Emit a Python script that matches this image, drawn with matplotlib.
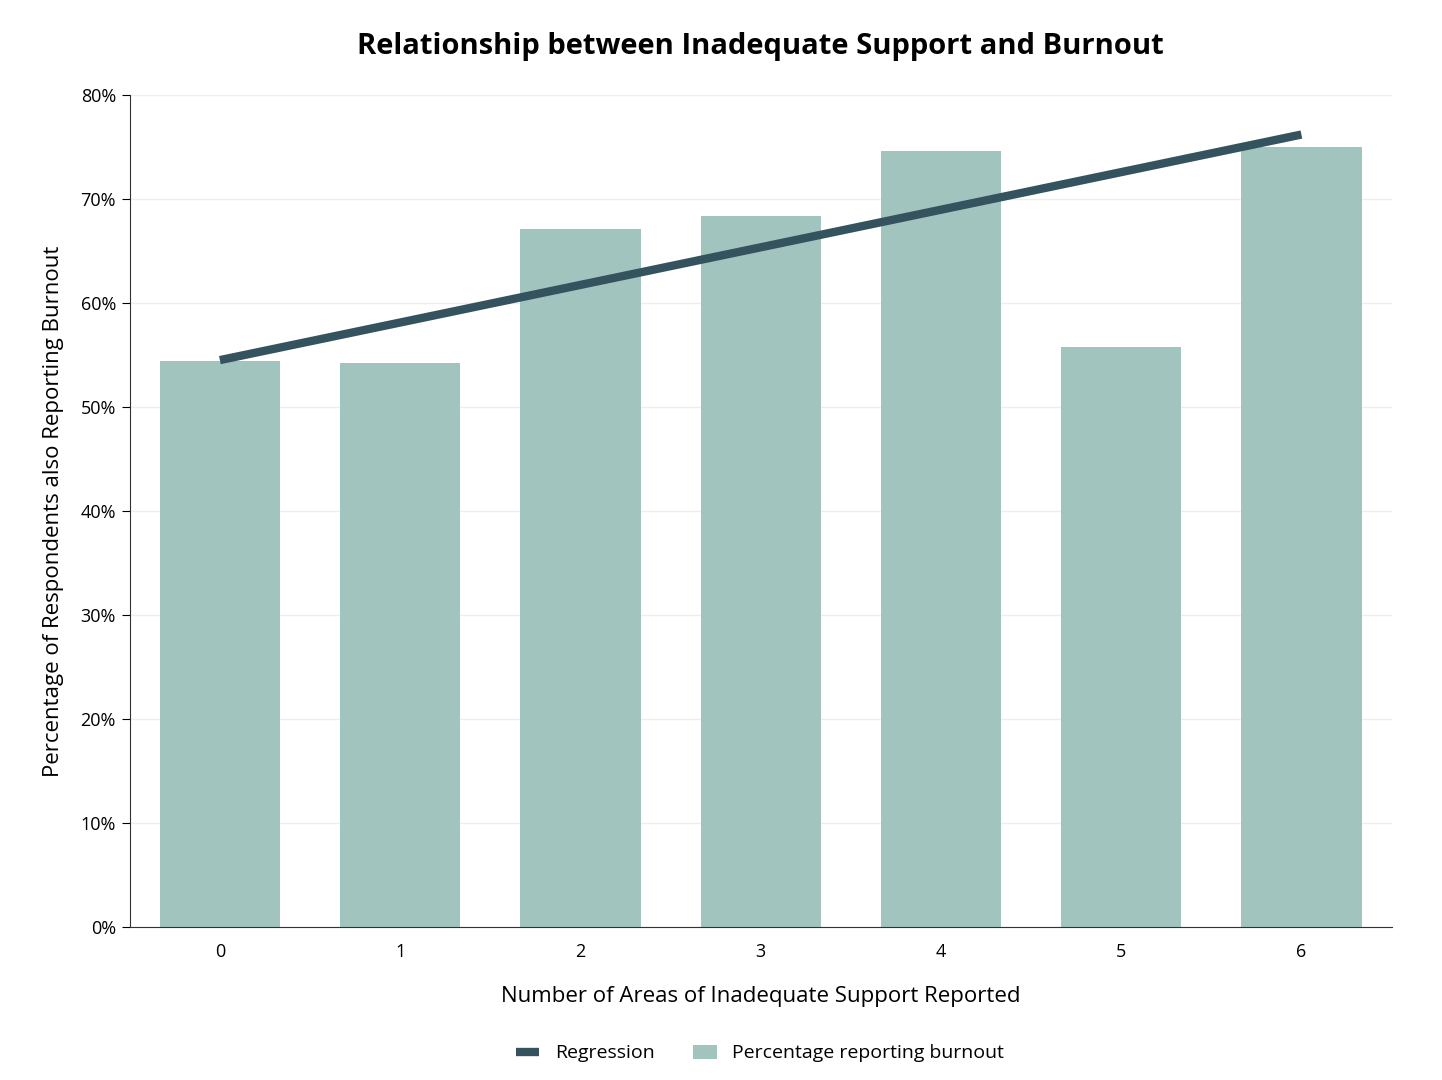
import numpy as np
import matplotlib.pyplot as plt
from matplotlib.ticker import PercentFormatter

plt.rcParams["font.family"] = "Open Sans"

# Data
areas = [0, 1, 2, 3, 4, 5, 6]
burnout_pct = [54.4, 54.2, 67.1, 68.4, 74.6, 55.8, 75.0]
regression_ends = [54.5, 76.2]  # fitted values at x=0 and x=6

fig = plt.figure(figsize=(14.42, 10.8), dpi=100)
ax = fig.add_axes([0.090, 0.142, 0.875, 0.770])

ax.bar(areas, burnout_pct, width=0.667, color="#a2c4be",
       label="Percentage reporting burnout", zorder=2)
ax.plot([areas[0], areas[-1]], regression_ends, color="#34535e", lw=6,
        solid_capstyle="butt", label="Regression", zorder=3)

ax.set_xlim(-0.5, 6.5)
ax.set_ylim(0, 80)
ax.set_yticks(np.arange(0, 81, 10))
ax.yaxis.set_major_formatter(PercentFormatter(decimals=0))
ax.set_xticks(areas)
ax.grid(axis="y", color="#eeeeee", lw=1, zorder=0)
for s in ["top", "right"]:
    ax.spines[s].set_visible(False)
ax.spines["left"].set_color("#333333")
ax.spines["bottom"].set_color("#333333")
ax.tick_params(axis="both", labelsize=13, length=0, pad=12)
ax.tick_params(axis="y", length=6, pad=4)

ax.set_xlabel("Number of Areas of Inadequate Support Reported", fontsize=16, labelpad=18)
ax.set_ylabel("Percentage of Respondents also Reporting Burnout", fontsize=16, labelpad=12)
fig.suptitle("Relationship between Inadequate Support and Burnout",
             fontsize=21, fontweight="bold", x=0.527, y=0.97)

fig.legend(loc="lower center", bbox_to_anchor=(0.527, 0.0), ncol=2, frameon=False,
           fontsize=14, handlelength=1.2, columnspacing=2)

fig.savefig("out.png", dpi=100)
